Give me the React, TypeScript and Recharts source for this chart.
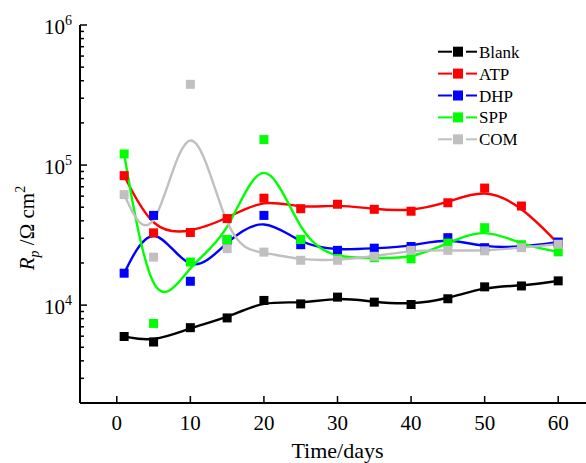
import React from "react";
import { LineChart, Line, XAxis, YAxis, Legend } from "recharts";

// sampling days (same for every coating)
const days = [1, 5, 10, 15, 20, 25, 30, 35, 40, 45, 50, 55, 60];

// Rp values in Ohm cm^2
const blank = [5970, 5450, 6900, 8100, 10800, 10200, 11400, 10500, 10100, 11100, 13500, 13700, 14900];
const atp = [84000, 32800, 33000, 41500, 58000, 48800, 52500, 48300, 46800, 53800, 68500, 51000, 27500];
const dhp = [16900, 43700, 14800, 29000, 43700, 27000, 24600, 25500, 26200, 30300, 25700, 26000, 28200];
const spp = [120000, 7400, 20300, 29400, 152000, 29400, 21500, 21800, 21400, 27700, 35700, 27000, 24000];
const com = [61500, 22000, 377000, 25300, 23900, 20900, 20900, 22300, 24600, 24600, 24400, 25700, 27200];

const seriesNames = ["Blank", "ATP", "DHP", "SPP", "COM"];
const seriesKeys = ["blank", "atp", "dhp", "spp", "com"];
const seriesColors = ["#000000", "#ff0000", "#0000ff", "#00ff00", "#c0c0c0"];

const xTicks = [0, 10, 20, 30, 40, 50, 60];
const yTicks = [
  2000, 3000, 4000, 5000, 6000, 7000, 8000, 9000,
  10000, 20000, 30000, 40000, 50000, 60000, 70000, 80000, 90000,
  100000, 200000, 300000, 400000, 500000, 600000, 700000, 800000, 900000,
  1000000,
];

const FONT = '"Liberation Serif", "Times New Roman", serif';

const rows = days.map((d, i) => ({
  day: d,
  blank: blank[i],
  atp: atp[i],
  dhp: dhp[i],
  spp: spp[i],
  com: com[i],
}));

function YTick(props: any) {
  const { x, y, payload } = props;
  const lg = Math.log10(payload.value);
  const exp = Math.round(lg);
  const major = Math.abs(lg - exp) < 1e-6;
  return (
    <g>
      <line x1={x} x2={x + (major ? 7 : 4)} y1={y} y2={y} stroke="#000" strokeWidth={1.5} />
      {major && (
        <text x={x - 8} y={y + 9} textAnchor="end" fontFamily={FONT} fontSize={21} fill="#000">
          10<tspan dy={-9} fontSize={14}>{exp}</tspan>
        </text>
      )}
    </g>
  );
}

function BottomTick(props: any) {
  const { x, y, payload } = props;
  return (
    <g>
      <line x1={x} x2={x} y1={y} y2={y - 7} stroke="#000" strokeWidth={1.5} />
      <text x={x} y={y + 27} textAnchor="middle" fontFamily={FONT} fontSize={21} fill="#000">
        {payload.value}
      </text>
    </g>
  );
}

function TopTick(props: any) {
  const { x, y } = props;
  return <line x1={x} x2={x} y1={y} y2={y + 5} stroke="#000" strokeWidth={1.5} />;
}

const squareDot = (color: string) => (props: any) => {
  const { cx, cy, index } = props;
  if (cx == null || cy == null) return <g key={index} />;
  return <rect key={index} x={cx - 4.5} y={cy - 4.5} width={9} height={9} fill={color} />;
};

function LegendBox() {
  return (
    <svg width={130} height={120} style={{ display: "block" }}>
      {seriesNames.map((name, i) => {
        const cy = 16.7 + 21.9 * i;
        const c = seriesColors[i];
        return (
          <g key={name}>
            <line x1={8} x2={22} y1={cy} y2={cy} stroke={c} strokeWidth={2} />
            <rect x={23} y={cy - 5} width={10} height={10} fill={c} />
            <line x1={36} x2={47} y1={cy} y2={cy} stroke={c} strokeWidth={2} />
            <text x={49} y={cy + 6} fontFamily={FONT} fontSize={17} fill="#000">
              {name}
            </text>
          </g>
        );
      })}
    </svg>
  );
}

export default function App() {
  return (
    <div
      style={{
        position: "absolute",
        left: 0,
        top: 0,
        width: 586,
        height: 463,
        overflow: "hidden",
        background: "#fff",
      }}
    >
      <LineChart width={620} height={463} data={rows} margin={{ top: 25, right: 25, bottom: 0, left: 0 }}>
        <XAxis
          xAxisId="top"
          orientation="top"
          type="number"
          dataKey="day"
          domain={[-5, 65]}
          ticks={xTicks}
          interval={0}
          height={0}
          tickSize={0}
          tickMargin={0}
          tickLine={false}
          tick={<TopTick />}
          axisLine={{ stroke: "#000", strokeWidth: 2 }}
        />
        <XAxis
          type="number"
          dataKey="day"
          domain={[-5, 65]}
          ticks={xTicks}
          interval={0}
          height={60}
          tickSize={0}
          tickMargin={0}
          tickLine={false}
          tick={<BottomTick />}
          axisLine={{ stroke: "#000", strokeWidth: 2 }}
          label={{
            content: () => (
              <text x={337.5} y={458} textAnchor="middle" fontFamily={FONT} fontSize={22} fill="#000">
                Time/days
              </text>
            ),
          }}
        />
        <YAxis
          type="number"
          scale="log"
          domain={[2000, 1000000]}
          allowDataOverflow
          ticks={yTicks}
          interval={0}
          width={80}
          tickSize={0}
          tickMargin={0}
          tickLine={false}
          tick={<YTick />}
          axisLine={{ stroke: "#000", strokeWidth: 2 }}
          label={{
            content: () => (
              <text
                transform="translate(34,228) rotate(-90)"
                textAnchor="middle"
                fontFamily={FONT}
                fontSize={21}
                fill="#000"
              >
                <tspan fontStyle="italic">R</tspan>
                <tspan fontStyle="italic" fontSize={14} dy={5}>p</tspan>
                <tspan dy={-5}> /Ω cm</tspan>
                <tspan fontSize={14} dy={-9}>2</tspan>
              </text>
            ),
          }}
        />
        {seriesKeys.map((k, i) => (
          <Line
            key={k}
            dataKey={k}
            name={seriesNames[i]}
            type="basis"
            stroke={seriesColors[i]}
            strokeWidth={2.4}
            dot={squareDot(seriesColors[i])}
            activeDot={false}
            isAnimationActive={false}
          />
        ))}
        <Legend
          layout="horizontal"
          verticalAlign="middle"
          align="center"
          wrapperStyle={{ left: 430, top: 35, width: 130, height: 120 }}
          content={() => <LegendBox />}
        />
      </LineChart>
    </div>
  );
}
